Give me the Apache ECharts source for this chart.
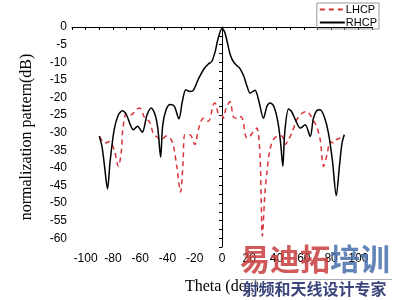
<!DOCTYPE html>
<html>
<head>
<meta charset="utf-8">
<script src="https://cdn.jsdelivr.net/npm/echarts@6/dist/echarts.min.js"></script>
<style>html,body{margin:0;padding:0;background:#fff}#c{width:400px;height:300px}</style>
</head>
<body>
<div id="c"></div>
<script>
// Theta (deg) / normalized pattern (dB)
var seriesNames = ['LHCP', 'RHCP'];
var xTickLabels = [-100, -80, -60, -40, -20, 0, 20, 40, 60, 80, 100];
var yTickLabels = [0, -5, -10, -15, -20, -25, -30, -35, -40, -45, -50, -55, -60];

var rhcp = [[-90,-31],[-88,-34],[-86,-40],[-84,-46],[-82,-38],[-79,-29],[-76,-25],[-73,-23.8],[-70,-25],[-67,-28],[-65,-29.2],[-62,-28.2],[-58.5,-29.9],[-55,-25],[-52,-23],[-49,-25],[-47,-29],[-45,-37],[-43.5,-28],[-41,-23.5],[-38,-22],[-35,-22.5],[-31.6,-26.1],[-29,-21],[-26.5,-17.8],[-23.5,-18.3],[-21,-18],[-17,-14.5],[-13,-11.8],[-10,-10.5],[-7.5,-9.8],[-5,-7],[-3,-3.5],[0,-0.4],[2,-1.5],[4,-4.5],[6,-7.8],[8.3,-9.8],[11,-11],[13.2,-11.8],[16,-14],[18.5,-17],[20.6,-18.8],[23,-18.2],[24.3,-18],[27,-21],[30.4,-25.9],[33,-22.5],[35.3,-21.6],[38,-22.5],[41,-27],[43,-33],[44.6,-39.6],[46,-30],[48.8,-23.3],[51,-24],[54,-26.5],[57.4,-28.7],[61,-27.8],[64.7,-31.1],[67,-26],[69.5,-23.7],[72,-23.5],[75,-25.5],[78,-30],[81,-38],[83.8,-47.9],[86,-40],[88,-33],[89.7,-30.6]];

var lhcp = [[-89.7,-31.1],[-86,-33],[-82.4,-32.5],[-79,-35],[-76,-39.6],[-74,-36],[-72.6,-28.7],[-70,-24.5],[-66.4,-24.9],[-63,-23.5],[-60.3,-23],[-56.6,-25.9],[-53,-27],[-50.5,-30.1],[-47,-31.5],[-44.3,-32],[-41,-31],[-38.2,-31.5],[-35.8,-33.4],[-33,-40],[-30.4,-46.9],[-28.5,-38],[-27.2,-30.6],[-23.5,-30.6],[-19.9,-33.4],[-17.4,-29.2],[-13.7,-25.9],[-10,-26.8],[-6.4,-22.1],[-5.1,-21.6],[-2.7,-24.5],[0,-25],[1,-25.9],[3,-23],[5.9,-21.2],[8.3,-25.5],[10.8,-25.9],[13.2,-25.4],[15,-26],[18.2,-31.5],[20.6,-31],[23,-29.7],[25.5,-28.7],[27.9,-36.7],[29.6,-59.4],[31.5,-47],[32.9,-41.4],[35,-35],[37.7,-32],[40.2,-31.1],[43.9,-31],[46.3,-33.4],[48,-32.5],[51.3,-30.1],[54.9,-26.3],[58.6,-24.5],[62,-24],[64.7,-25],[67,-26.5],[69.6,-28.5],[72,-32],[74.5,-39.6],[77,-36.3],[79.4,-32.5],[81.8,-33],[84,-32],[86.8,-31.5],[89.2,-30.6]];

var chart = echarts.init(document.getElementById('c'), null, {renderer: 'canvas'});
var axisFont = {fontFamily: 'Liberation Sans, Arial, sans-serif', fontSize: 12, color: '#000'};
chart.setOption({
  animation: false,
  backgroundColor: '#fff',
  grid: {left: 72, right: 28, top: 27, bottom: 52, containLabel: false},
  legend: {
    orient: 'vertical', right: 21, top: 3,
    data: seriesNames,
    itemWidth: 25, itemHeight: 10, itemGap: 2,
    padding: [1, 2, 1, 2],
    borderColor: '#999', borderWidth: 1,
    itemStyle: {opacity: 0},
    textStyle: {fontFamily: 'Liberation Sans, Arial, sans-serif', fontSize: 11, color: '#000', padding: [0,0,0,-4]}
  },
  xAxis: {
    type: 'value', min: -110, max: 110, interval: 10,
    name: 'Theta (deg)', nameLocation: 'middle', nameGap: 32,
    nameTextStyle: {fontFamily: 'Liberation Serif, Times New Roman, serif', fontSize: 16, color: '#000'},
    axisLine: {lineStyle: {color: '#000', width: 1}},
    axisTick: {length: 3, lineStyle: {color: '#000'}},
    axisLabel: Object.assign({margin: 6, formatter: function (v) {
      return xTickLabels.indexOf(v) >= 0 ? String(v) : '';
    }}, axisFont),
    splitLine: {show: false}
  },
  yAxis: {
    type: 'value', min: -62.5, max: 0, interval: 2.5,
    name: 'normalization pattern(dB)', nameLocation: 'middle', nameGap: 37,
    nameTextStyle: {fontFamily: 'Liberation Serif, Times New Roman, serif', fontSize: 16, color: '#000'},
    axisLine: {show: true, lineStyle: {color: '#000', width: 1}},
    axisTick: {show: true, length: 3, lineStyle: {color: '#000'}},
    axisLabel: Object.assign({margin: 5, formatter: function (v) {
      return yTickLabels.indexOf(v) >= 0 ? String(v) : '';
    }}, axisFont),
    splitLine: {show: false}
  },
  series: [
    {name: seriesNames[0], type: 'line', data: lhcp, symbol: 'none', smooth: 0.3,
     lineStyle: {color: '#d9343a', width: 1.5, type: [5, 4]}, itemStyle: {color: '#d9343a'}, z: 2},
    {name: seriesNames[1], type: 'line', data: rhcp, symbol: 'none', smooth: 0.3,
     lineStyle: {color: '#000', width: 1.5}, itemStyle: {color: '#000'}, z: 3}
  ],
  graphic: [
    {type: 'text', left: 240, top: 244, z: 10, style: {text: '易迪拓', fill: 'rgba(200,60,60,0.85)', font: 'bold 30px "Noto Sans CJK SC"'}},
    {type: 'text', left: 330, top: 244, z: 10, style: {text: '培训', fill: 'rgba(70,110,170,0.85)', font: 'bold 30px "Noto Sans CJK SC"'}},
    {type: 'rect', shape: {x: 240, y: 279, width: 152, height: 1}, z: 10, style: {fill: 'rgba(120,120,140,0.6)'}},
    {type: 'text', left: 242, top: 280, z: 10, style: {text: '射频和天线设计专家', fill: 'rgba(40,50,110,0.9)', font: 'bold 16px "Noto Sans CJK SC"', stroke: '#fff', lineWidth: 1}}
  ]
});
</script>
</body>
</html>
